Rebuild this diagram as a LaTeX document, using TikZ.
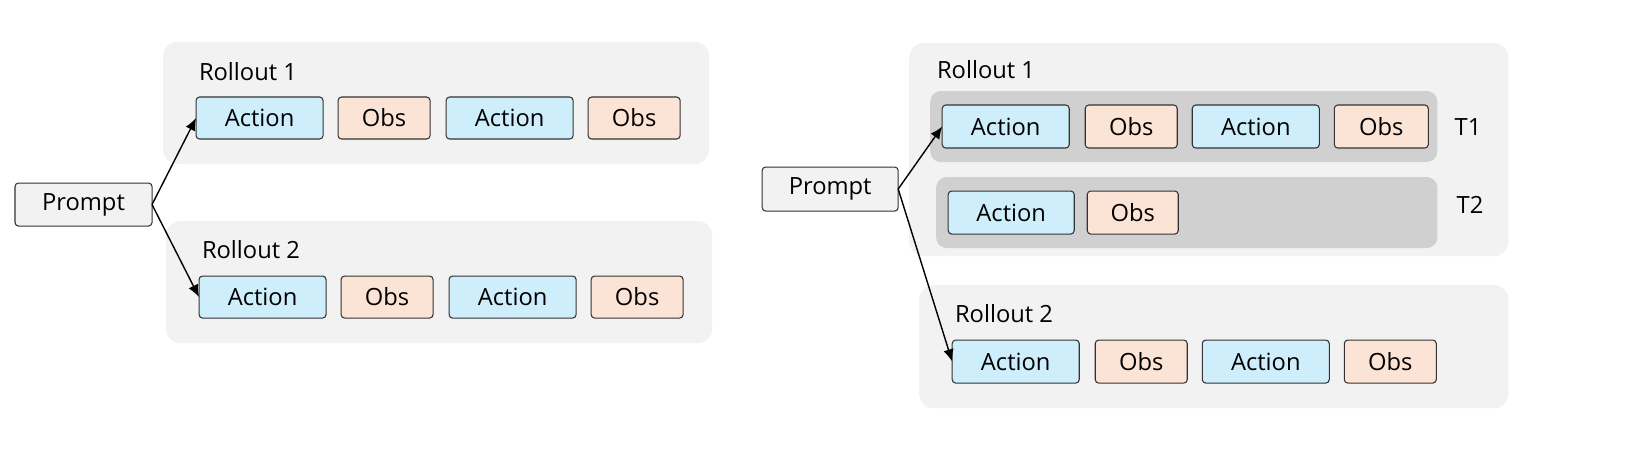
\documentclass[tikz,border=0pt]{standalone}
\usepackage{fontspec}
\usetikzlibrary{arrows.meta}
\setmainfont{Open Sans}
\definecolor{actc}{HTML}{CDEEFA}
\definecolor{obsc}{HTML}{FBE3D6}
\definecolor{bgc}{HTML}{F2F2F2}
\definecolor{tc}{HTML}{D0D0D0}
\newcommand\bx[7]{\node[#6, minimum width={(#4-#2)*0.02cm}, minimum height={(#5-#3)*0.02cm}] (#1) at ({(#2+#4)/2*0.02},{-(#3+#5)/2*0.02}) {#7};}
\tikzset{
 base/.style={inner sep=0pt, outer sep=0pt, font=\fontsize{13.5}{15}\selectfont},
 act/.style={base, draw=black!80, fill=actc, rounded corners=2pt, line width=0.6pt},
 obs/.style={base, draw=black!80, fill=obsc, rounded corners=2pt, line width=0.6pt},
 prm/.style={base, draw=black!80, fill=bgc, rounded corners=2pt, line width=0.6pt},
 bg/.style={base, fill=bgc, rounded corners=8pt},
 tb/.style={base, fill=tc, rounded corners=6pt},
 lbl/.style={base, anchor=west},
 arr/.style={-{Latex[length=7pt,width=6pt]}, line width=0.8pt},
}
\begin{document}
\begin{tikzpicture}
\useasboundingbox (0,0) rectangle (32.6,-9.22);
% left
\bx{lr1}{163}{42}{709}{164}{bg}{}
\bx{lr2}{166}{221}{712}{343}{bg}{}
\node[lbl] (lr1l) at (3.98,-1.44) {Rollout 1};
\node[lbl] (lr2l) at (4.04,-5.0) {Rollout 2};
\bx{la1}{196}{97}{323}{139}{act}{Action}
\bx{lo1}{338}{97}{430}{139}{obs}{Obs}
\bx{la2}{446}{97}{573}{139}{act}{Action}
\bx{lo2}{588}{97}{680}{139}{obs}{Obs}
\bx{lb1}{199}{276}{326}{318}{act}{Action}
\bx{lp1}{341}{276}{433}{318}{obs}{Obs}
\bx{lb2}{449}{276}{576}{318}{act}{Action}
\bx{lp2}{591}{276}{683}{318}{obs}{Obs}
\bx{lpr}{15}{183}{152}{226}{prm}{Prompt}
\draw[arr] (lpr.east) -- (la1.west);
\draw[arr] (lpr.east) -- (lb1.west);
% right
\bx{rr1}{909}{43}{1508}{256}{bg}{}
\bx{rr2}{919}{285}{1508}{408}{bg}{}
\bx{t1}{930}{91}{1437}{162}{tb}{}
\bx{t2}{936}{177}{1437}{248}{tb}{}
\node[lbl] (rr1l) at (18.74,-1.4) {Rollout 1};
\node[lbl] (rr2l) at (19.1,-6.28) {Rollout 2};
\node[base] (t1l) at (29.36,-2.54) {T1};
\node[base] (t2l) at (29.4,-4.1) {T2};
\bx{ra1}{942}{105}{1069}{148}{act}{Action}
\bx{ro1}{1085}{105}{1177}{148}{obs}{Obs}
\bx{ra2}{1192}{105}{1319}{148}{act}{Action}
\bx{ro2}{1334}{105}{1428}{148}{obs}{Obs}
\bx{ra3}{948}{191}{1074}{234}{act}{Action}
\bx{ro3}{1087}{191}{1178}{234}{obs}{Obs}
\bx{rb1}{952}{340}{1079}{383}{act}{Action}
\bx{rp1}{1095}{340}{1187}{383}{obs}{Obs}
\bx{rb2}{1202}{340}{1329}{383}{act}{Action}
\bx{rp2}{1344}{340}{1436}{383}{obs}{Obs}
\bx{rpr}{762}{167}{898}{211}{prm}{Prompt}
\draw[arr] (rpr.east) -- (ra1.west);
\draw[arr] (rpr.east) -- (rb1.west);
\end{tikzpicture}
\end{document}
